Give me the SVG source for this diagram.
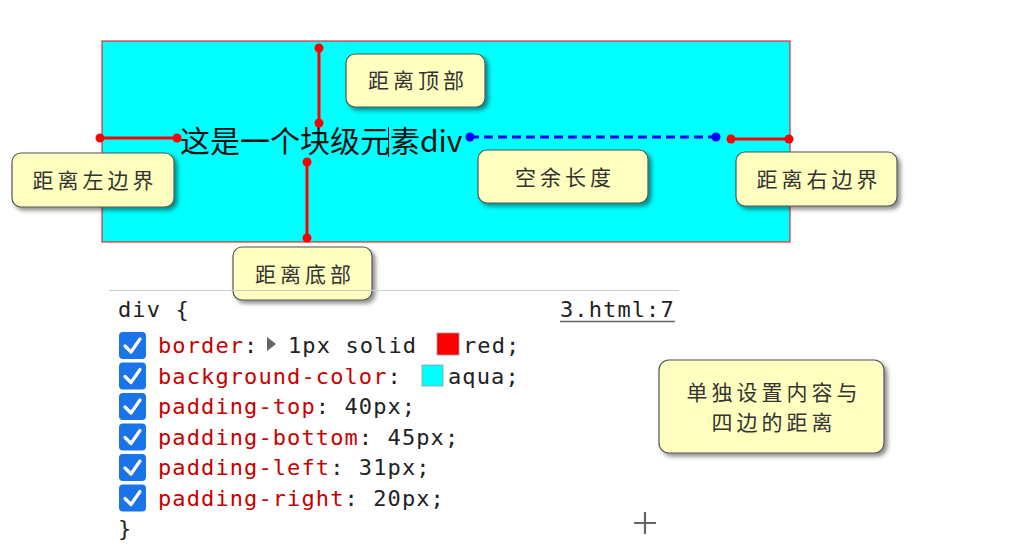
<svg xmlns="http://www.w3.org/2000/svg" width="1013" height="552" viewBox="0 0 1013 552">
<defs>
<filter id="sh" x="-10%" y="-10%" width="130%" height="140%">
<feDropShadow dx="3" dy="3" stdDeviation="2" flood-color="#000" flood-opacity="0.45"/>
</filter>
<style>
.call{fill:#FFFFC0;stroke:#555;stroke-width:1.2;filter:url(#sh)}
.ct{font-family:"Noto Sans CJK SC",sans-serif;font-size:21px;fill:#333;letter-spacing:4px;text-anchor:middle}
.red{stroke:#FF0000;stroke-width:3;fill:none}
.rd{fill:#FF0000}
.code{font-family:"DejaVu Sans Mono",monospace;font-size:22px;letter-spacing:1.1px;fill:#222}
.prop{fill:#C80000}
.cb{fill:#1A73E8}
.ck{fill:none;stroke:#fff;stroke-width:3.2;stroke-linecap:round;stroke-linejoin:round}
</style>
</defs>
<rect width="1013" height="552" fill="#fff"/>
<g id="box">
<rect x="102" y="41" width="688" height="201" fill="#00FFFF" stroke="#FF0000" stroke-width="1"/>
<text x="180" y="152" font-family="Noto Sans CJK SC,sans-serif" font-size="30" fill="#111">这是一个块级元素div</text>
<line x1="388.5" y1="127" x2="388.5" y2="157" stroke="#000" stroke-width="1"/>
</g>
<g id="connectors">
<line class="red" x1="319" y1="48" x2="319" y2="123"/>
<circle class="rd" cx="319" cy="48" r="4.5"/><circle class="rd" cx="319" cy="123" r="4.5"/>
<line class="red" x1="100" y1="138" x2="177" y2="138"/>
<circle class="rd" cx="100" cy="138" r="4.5"/><circle class="rd" cx="177" cy="138" r="4.5"/>
<line class="red" x1="307" y1="162" x2="307" y2="238"/>
<circle class="rd" cx="307" cy="162" r="4.5"/><circle class="rd" cx="307" cy="238" r="4.5"/>
<line class="red" x1="731" y1="139" x2="789" y2="139"/>
<circle class="rd" cx="731" cy="139" r="4.5"/><circle class="rd" cx="789" cy="139" r="4.5"/>
<line x1="470" y1="137" x2="716" y2="137" stroke="#0000FF" stroke-width="3" stroke-dasharray="9,5"/>
<circle cx="470" cy="137" r="4.5" fill="#0000FF"/><circle cx="716" cy="137" r="4.5" fill="#0000FF"/>
</g>
<g id="c-top"><rect class="call" x="346" y="54" width="139" height="53" rx="9"/><text class="ct" x="418" y="88">距离顶部</text></g>
<g id="c-left"><rect class="call" x="12" y="153" width="162" height="54" rx="9"/><text class="ct" x="95" y="188">距离左边界</text></g>
<g id="c-free"><rect class="call" x="478" y="150" width="170" height="53" rx="9"/><text class="ct" x="565" y="185">空余长度</text></g>
<g id="c-right"><rect class="call" x="736" y="152" width="161" height="54" rx="9"/><text class="ct" x="819" y="187">距离右边界</text></g>
<g id="c-bottom"><rect class="call" x="233" y="247" width="139" height="53" rx="9"/><text class="ct" x="305" y="282">距离底部</text></g>
<g id="c-note"><rect class="call" x="659" y="360" width="225" height="93" rx="10"/><text class="ct" x="774" y="400">单独设置内容与</text><text class="ct" x="774" y="430">四边的距离</text></g>
<g id="code">
<line x1="109" y1="290.5" x2="679" y2="290.5" stroke="#ccc" stroke-width="1"/>
<text class="code" x="118" y="317">div {</text>
<text class="code" x="560" y="317" fill="#333">3.html:7</text>
<line x1="560" y1="321.5" x2="675" y2="321.5" stroke="#666" stroke-width="1.3"/>
<g id="cbs">
<rect class="cb" x="119" y="332" width="27" height="27" rx="4"/><path class="ck" d="M125 346 L131 352 L140 339"/>
<rect class="cb" x="119" y="362.5" width="27" height="27" rx="4"/><path class="ck" d="M125 376.5 L131 382.5 L140 369.5"/>
<rect class="cb" x="119" y="393" width="27" height="27" rx="4"/><path class="ck" d="M125 407 L131 413 L140 400"/>
<rect class="cb" x="119" y="423.5" width="27" height="27" rx="4"/><path class="ck" d="M125 437.5 L131 443.5 L140 430.5"/>
<rect class="cb" x="119" y="454" width="27" height="27" rx="4"/><path class="ck" d="M125 468 L131 474 L140 461"/>
<rect class="cb" x="119" y="484.5" width="27" height="27" rx="4"/><path class="ck" d="M125 498.5 L131 504.5 L140 491.5"/>
</g>
<text class="code" x="158" y="353"><tspan class="prop">border</tspan>:</text>
<polygon points="267,337 267,351 276,344" fill="#666"/>
<text class="code" x="288" y="353">1px solid</text>
<rect x="437" y="333" width="22" height="22" fill="#FF0000" stroke="#999" stroke-width="0.8"/>
<text class="code" x="463" y="353">red;</text>
<text class="code" x="158" y="383.5"><tspan class="prop">background-color</tspan>:</text>
<rect x="422" y="365" width="21" height="21" fill="#00FFFF" stroke="#999" stroke-width="0.8"/>
<text class="code" x="448" y="383.5">aqua;</text>
<text class="code" x="158" y="414"><tspan class="prop">padding-top</tspan>: 40px;</text>
<text class="code" x="158" y="444.5"><tspan class="prop">padding-bottom</tspan>: 45px;</text>
<text class="code" x="158" y="475"><tspan class="prop">padding-left</tspan>: 31px;</text>
<text class="code" x="158" y="505.5"><tspan class="prop">padding-right</tspan>: 20px;</text>
<text class="code" x="118" y="536">}</text>
<path d="M634 523 H656 M645 512 V534" stroke="#666" stroke-width="2.2"/>
</g>
</svg>
